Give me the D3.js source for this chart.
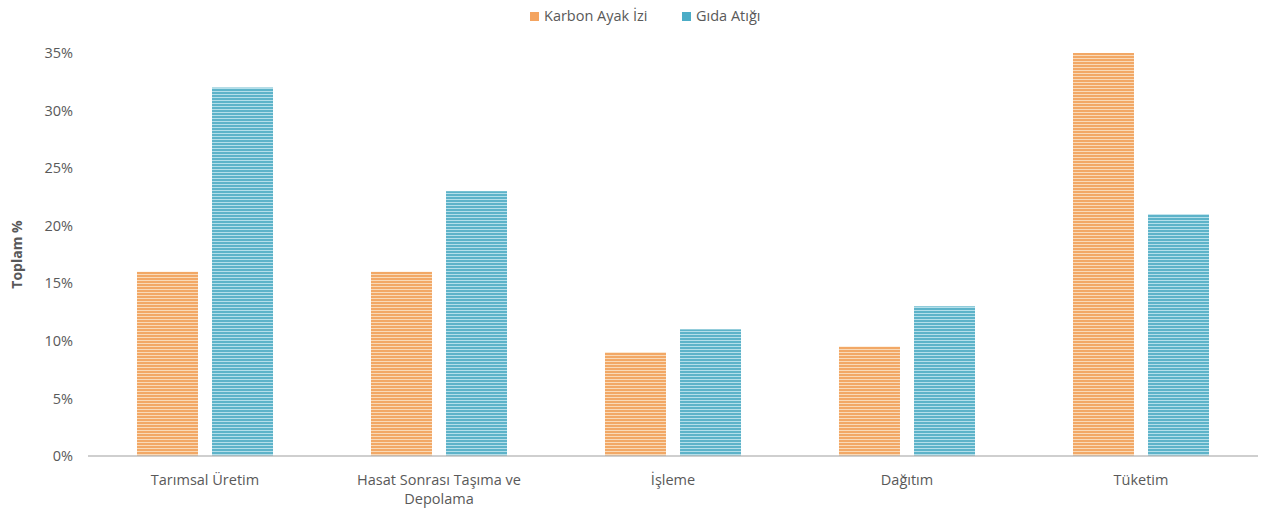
<!doctype html>
<html lang="en">
<head>
    <meta charset="utf-8">
    <title>Toplam %</title>
    <script src="https://cdn.jsdelivr.net/npm/d3@7"></script>
    <style>
        body { margin: 0; background: #ffffff; }
        svg text { font-family: "Open Sans", "Noto Sans", sans-serif; fill: #595959; }
    </style>
</head>
<body>
<svg width="1265" height="508" id="chart"></svg>
<script>
    const categories = [["Tarımsal Üretim"], ["Hasat Sonrası Taşıma ve", "Depolama"], ["İşleme"], ["Dağıtım"], ["Tüketim"]];
    const seriesNames = ["Karbon Ayak İzi", "Gıda Atığı"];
    const karbon = [16, 16, 9, 9.5, 35];
    const gida = [32, 23, 11, 13, 21];
    const yTicks = [0, 5, 10, 15, 20, 25, 30, 35];
    const colors = ["#f2a866", "#5db3c9"];
    const lightColors = ["#f9dab8", "#b4dfea"];
    const legendColors = ["#f4a460", "#4bacc6"];

    const svg = d3.select("#chart");
    const margin = {top: 53, right: 7, bottom: 52, left: 88};
    const width = +svg.attr("width") - margin.left - margin.right;
    const height = +svg.attr("height") - margin.top - margin.bottom;

    // striped fills like the original
    const defs = svg.append("defs");
    seriesNames.forEach((s, i) => {
        const p = defs.append("pattern")
            .attr("id", "stripe" + i)
            .attr("patternUnits", "userSpaceOnUse")
            .attr("width", 6).attr("height", 3);
        p.append("rect").attr("width", 6).attr("height", 3).attr("fill", lightColors[i]);
        p.append("rect").attr("width", 6).attr("height", 2).attr("fill", colors[i]);
    });

    const g = svg.append("g")
        .attr("transform", "translate(" + margin.left + "," + margin.top + ")");

    const x0 = d3.scaleBand()
        .domain(d3.range(categories.length))
        .range([0, width]);

    const x1 = d3.scaleBand()
        .domain(d3.range(seriesNames.length))
        .range([0, x0.bandwidth()])
        .paddingInner(0.187)
        .paddingOuter(0.653);

    const y = d3.scaleLinear()
        .domain([0, 35])
        .range([height, 0]);

    // y axis labels
    g.append("g")
        .selectAll("text")
        .data(yTicks)
        .enter().append("text")
        .attr("x", -15)
        .attr("y", d => y(d))
        .attr("dy", "0.35em")
        .style("text-anchor", "end")
        .style("font-size", "14.5px")
        .text(d => d + "%");

    svg.append("text")
        .attr("transform", "translate(22," + (margin.top + height / 2) + ") rotate(-90)")
        .style("text-anchor", "middle")
        .style("font-size", "14px")
        .style("font-weight", "bold")
        .text("Toplam %");

    const data = categories.map((c, i) => [karbon[i], gida[i]]);

    const groups = g.selectAll(".grp")
        .data(data)
        .enter().append("g")
        .attr("transform", (d, i) => "translate(" + x0(i) + ",0)");

    groups.selectAll("rect")
        .data(d => d)
        .enter().append("rect")
        .attr("x", (d, i) => x1(i))
        .attr("width", x1.bandwidth())
        .attr("y", d => y(d))
        .attr("height", d => height - y(d))
        .attr("fill", (d, i) => "url(#stripe" + i + ")");

    // baseline
    g.append("line")
        .attr("x1", 0).attr("x2", width)
        .attr("y1", height).attr("y2", height)
        .attr("stroke", "#bfbfbf")
        .attr("stroke-width", 1.5);

    // category labels
    const lab = g.append("g")
        .selectAll("text")
        .data(categories)
        .enter().append("text")
        .attr("x", (d, i) => x0(i) + x0.bandwidth() / 2)
        .attr("y", height + 29)
        .style("text-anchor", "middle")
        .style("font-size", "14.5px");
    lab.selectAll("tspan")
        .data(d => d)
        .enter().append("tspan")
        .attr("x", function () { return d3.select(this.parentNode).attr("x"); })
        .attr("dy", (d, i) => i === 0 ? 0 : 19)
        .text(d => d);

    // legend
    const legend = svg.append("g").attr("transform", "translate(530,16)");
    const legX = [0, 152];
    seriesNames.forEach((s, i) => {
        legend.append("rect")
            .attr("x", legX[i]).attr("y", -4)
            .attr("width", 9).attr("height", 9)
            .attr("fill", legendColors[i]);
        legend.append("text")
            .attr("x", legX[i] + 14).attr("y", 0)
            .attr("dy", "0.35em")
            .style("font-size", "14.5px")
            .text(s);
    });
</script>
</body>
</html>
